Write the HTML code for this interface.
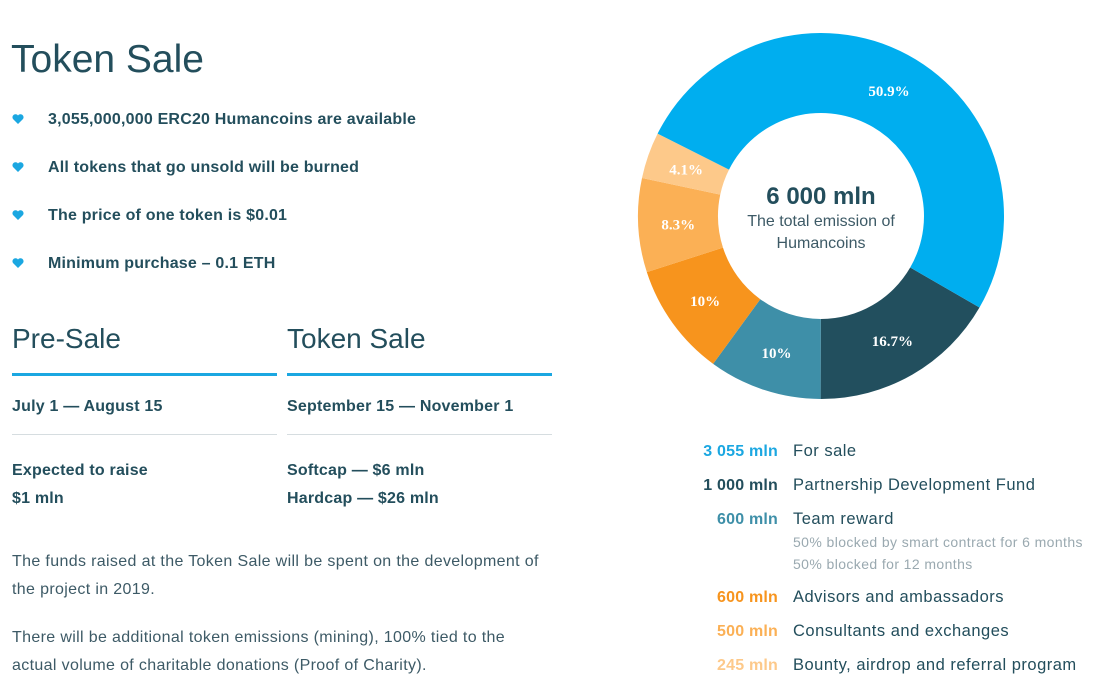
<!DOCTYPE html>
<html><head><meta charset="utf-8"><style>
body{margin:0;width:1101px;height:688px;background:#fff;font-family:"Liberation Sans",sans-serif;color:#234e5c;position:relative;overflow:hidden}
.a{position:absolute;white-space:nowrap}
.b{font-weight:bold;font-size:16px;letter-spacing:0.2px}
.heart{position:absolute;left:12px;width:12px;height:10px}
.line{position:absolute;height:3px;background:#1ba7e1}
.gl{position:absolute;height:1px;background:#d6dde0}
.p{font-size:16px;color:#3d5a66;letter-spacing:0.35px}
.num{position:absolute;right:323px;font-weight:bold;font-size:16px;text-align:right;letter-spacing:0.2px}
.lab{position:absolute;left:793px;font-size:16.5px;white-space:nowrap;letter-spacing:0.5px}
.sm{position:absolute;left:793px;font-size:14px;color:#9aa9b0;white-space:nowrap;letter-spacing:0.4px}
</style></head><body>
<div class="a" style="left:11px;top:38px;font-size:39px;color:#234e5c">Token Sale</div>
<svg class="heart" style="top:114px" viewBox="0 0 12 10"><path d="M6 10 L1 5 A2.7 2.7 0 0 1 6 1.5 A2.7 2.7 0 0 1 11 5 Z" fill="#1ba7e1"/></svg>
<svg class="heart" style="top:162px" viewBox="0 0 12 10"><path d="M6 10 L1 5 A2.7 2.7 0 0 1 6 1.5 A2.7 2.7 0 0 1 11 5 Z" fill="#1ba7e1"/></svg>
<svg class="heart" style="top:210px" viewBox="0 0 12 10"><path d="M6 10 L1 5 A2.7 2.7 0 0 1 6 1.5 A2.7 2.7 0 0 1 11 5 Z" fill="#1ba7e1"/></svg>
<svg class="heart" style="top:258px" viewBox="0 0 12 10"><path d="M6 10 L1 5 A2.7 2.7 0 0 1 6 1.5 A2.7 2.7 0 0 1 11 5 Z" fill="#1ba7e1"/></svg>
<div class="a b" style="left:48px;top:111px">3,055,000,000 ERC20 Humancoins are available</div>
<div class="a b" style="left:48px;top:159px">All tokens that go unsold will be burned</div>
<div class="a b" style="left:48px;top:207px">The price of one token is $0.01</div>
<div class="a b" style="left:48px;top:255px">Minimum purchase – 0.1 ETH</div>
<div class="a" style="left:12px;top:323px;font-size:28px">Pre-Sale</div>
<div class="a" style="left:287px;top:323px;font-size:28px">Token Sale</div>
<div class="line" style="left:12px;top:373px;width:265px"></div>
<div class="line" style="left:287px;top:373px;width:265px"></div>
<div class="a b" style="left:12px;top:398px">July 1 — August 15</div>
<div class="a b" style="left:287px;top:398px">September 15 — November 1</div>
<div class="gl" style="left:12px;top:434px;width:265px"></div>
<div class="gl" style="left:287px;top:434px;width:265px"></div>
<div class="a b" style="left:12px;top:457px;line-height:28px">Expected to raise<br>$1 mln</div>
<div class="a b" style="left:287px;top:457px;line-height:28px">Softcap — $6 mln<br>Hardcap — $26 mln</div>
<div class="a p" style="left:12px;top:548px;line-height:28px">The funds raised at the Token Sale will be spent on the development of<br>the project in 2019.</div>
<div class="a p" style="left:12px;top:624px;line-height:28px">There will be additional token emissions (mining), 100% tied to the<br>actual volume of charitable donations (Proof of Charity).</div>

<svg id="donut" class="a" style="left:0;top:0" width="1101" height="688"></svg>
<div class="a" style="left:721px;top:183px;width:200px;text-align:center;font-size:24px;font-weight:bold">6 000 mln</div>
<div class="a" style="left:721px;top:211px;width:200px;text-align:center;font-size:16px;line-height:22px;white-space:normal;color:#3d5a66">The total emission of<br>Humancoins</div>

<div class="num" style="top:443px;color:#1ba7e1">3 055 mln</div><div class="lab" style="top:442px">For sale</div>
<div class="num" style="top:477px;color:#234e5c">1 000 mln</div><div class="lab" style="top:476px">Partnership Development Fund</div>
<div class="num" style="top:511px;color:#3e8fa8">600 mln</div><div class="lab" style="top:510px">Team reward</div>
<div class="sm" style="top:534px">50% blocked by smart contract for 6 months</div>
<div class="sm" style="top:556px">50% blocked for 12 months</div>
<div class="num" style="top:589px;color:#f7941d">600 mln</div><div class="lab" style="top:588px">Advisors and ambassadors</div>
<div class="num" style="top:623px;color:#fbb055">500 mln</div><div class="lab" style="top:622px">Consultants and exchanges</div>
<div class="num" style="top:657px;color:#fdc98a">245 mln</div><div class="lab" style="top:656px">Bounty, airdrop and referral program</div>

<script>
const categories=["Partnership","Team","Advisors","Consultants","Bounty","Sale"];
const values=[16.7,10,10,8.3,4.1,50.9];
const labels=["16.7%","10%","10%","8.3%","4.1%","50.9%"];
const colors=["#224f5e","#3e8fa8","#f7941d","#fbb055","#fdc98a","#00aeef"];
const cx=821,cy=216,R=183,r=103,start=120;
const svg=document.getElementById('donut');
const NS='http://www.w3.org/2000/svg';
const total=values.reduce((a,b)=>a+b,0);
function pt(deg,rad){const a=deg*Math.PI/180;return [cx+rad*Math.sin(a),cy-rad*Math.cos(a)];}
let ang=start;
values.forEach((v,i)=>{
  const sw=v/total*360,a0=ang,a1=ang+sw;ang=a1;
  const lg=sw>180?1:0;
  const p0=pt(a0,R),p1=pt(a1,R),q1=pt(a1,r),q0=pt(a0,r);
  const path=document.createElementNS(NS,'path');
  path.setAttribute('d',`M${p0} A${R},${R} 0 ${lg} 1 ${p1} L${q1} A${r},${r} 0 ${lg} 0 ${q0} Z`);
  path.setAttribute('fill',colors[i]);
  
  
  svg.appendChild(path);
  const m=pt((a0+a1)/2,(R+r)/2);
  const t=document.createElementNS(NS,'text');
  t.setAttribute('x',m[0]);t.setAttribute('y',m[1]+6);
  t.setAttribute('text-anchor','middle');t.setAttribute('fill','#fff');
  t.setAttribute('font-family','Liberation Serif, serif');t.setAttribute('font-weight','bold');t.setAttribute('font-size','15');
  
  
  t.textContent=labels[i];
  svg.appendChild(t);
});
</script>
</body></html>
